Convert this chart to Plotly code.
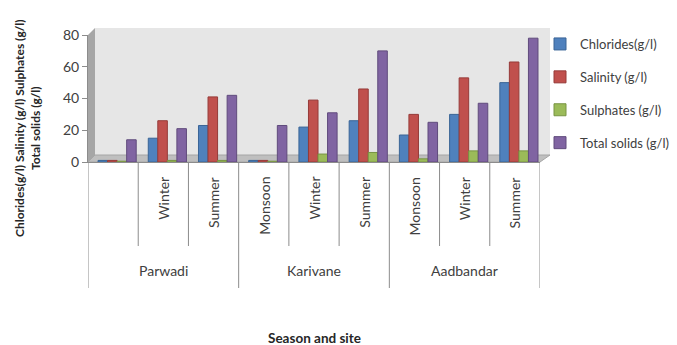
import plotly.graph_objects as go

# Sampling sites and seasons
sites = ["Parwadi", "Karivane", "Aadbandar"]
seasons = ["", "Winter", "Summer", "Monsoon", "Winter", "Summer", "Monsoon", "Winter", "Summer"]

# Measured values (g/l) per season/site
chlorides = [1, 15, 23, 1, 22, 26, 17, 30, 50]
salinity = [1, 26, 41, 1, 39, 46, 30, 53, 63]
sulphates = [0.5, 1, 1, 0.5, 5, 6, 2, 7, 7]
total_solids = [14, 21, 42, 23, 31, 70, 25, 37, 78]

series = [
    ("Chlorides(g/l)", chlorides, "#4F81BD", "#3A6596"),
    ("Salinity (g/l)", salinity, "#C0504D", "#963B39"),
    ("Sulphates (g/l)", sulphates, "#9BBB59", "#789443"),
    ("Total solids (g/l)", total_solids, "#8064A2", "#604B7C"),
]

W, H = 677, 345
L, R, T, B = 88, 137, 35, 183
PW, PH = W - L - R, H - T - B


def px_x(px):
    return (px - L) / PW


def px_y(py):
    return (H - B - py) / PH


pos = list(range(len(seasons)))
offsets = [-0.30, -0.11, 0.08, 0.27]

fig = go.Figure()
for i, (name, vals, col, edge) in enumerate(series):
    fig.add_trace(go.Bar(
        x=pos, y=vals, name=name, legendgroup=name,
        width=0.19, offset=offsets[i],
        marker=dict(color=col, line=dict(color=edge, width=1)),
    ))

shapes = []
# back wall, left wall and floor of the 3-D frame
shapes.append(dict(type="rect", xref="paper", yref="paper", layer="below",
                   x0=px_x(95), x1=px_x(550), y0=px_y(155), y1=px_y(28),
                   fillcolor="#E6E6E6", line=dict(width=0)))
shapes.append(dict(type="path", xref="paper", yref="paper", layer="below",
                   path=f"M {px_x(88)},{px_y(35)} L {px_x(95)},{px_y(28)} L {px_x(95)},{px_y(155)} L {px_x(88)},{px_y(162)} Z",
                   fillcolor="#A6A6A6", line=dict(width=0)))
shapes.append(dict(type="path", xref="paper", yref="paper", layer="below",
                   path=f"M {px_x(88)},{px_y(162)} L {px_x(540)},{px_y(162)} L {px_x(550)},{px_y(155)} L {px_x(95)},{px_y(155)} Z",
                   fillcolor="#BFBFBF", line=dict(color="#A6A6A6", width=1)))

# category dividers below the axis
n_per_site = 3
for k in range(len(seasons) + 1):
    outer = k % n_per_site == 0
    depth = 126 if outer else 84
    shapes.append(dict(type="line", xref="x", yref="paper",
                       x0=k - 0.5, x1=k - 0.5, y0=0, y1=-depth / PH,
                       line=dict(color="#8C8C8C", width=1)))

annotations = []
for k, s in enumerate(seasons):
    if s:
        annotations.append(dict(x=k, y=0, xref="x", yref="paper", text=s,
                                textangle=-90, showarrow=False, yanchor="top",
                                yshift=-13, font=dict(size=14, color="#404040")))
for j, site in enumerate(sites):
    annotations.append(dict(x=j * n_per_site + 1, y=0, xref="x", yref="paper",
                            text=site, showarrow=False, yanchor="middle",
                            yshift=-108, font=dict(size=14, color="#404040")))
annotations.append(dict(x=0.5, y=0, xref="paper", yref="paper", text="<b>Season and site</b>",
                        showarrow=False, yanchor="middle", yshift=-176,
                        font=dict(size=13.5, color="#262626")))
annotations.append(dict(x=0, y=px_y(128), xref="paper", yref="paper",
                        text="<b>Chlorides(g/l) Salinity (g/l) Sulphates (g/l)<br>Total solids (g/l)</b>",
                        textangle=-90, showarrow=False, xanchor="center", yanchor="middle",
                        xshift=-61, font=dict(size=12, color="#262626")))

fig.update_layout(
    width=W, height=H,
    margin=dict(l=L, r=R, t=T, b=B, autoexpand=False),
    paper_bgcolor="white", plot_bgcolor="rgba(0,0,0,0)",
    font=dict(family="Lato, Open Sans, sans-serif", color="#404040"),
    barmode="group",
    showlegend=True,
    legend=dict(x=px_x(540), xanchor="left", y=px_y(29), yanchor="top",
                font=dict(size=13, color="#404040"), tracegroupgap=13,
                itemwidth=30, bgcolor="rgba(0,0,0,0)"),
    shapes=shapes, annotations=annotations,
)
fig.update_xaxes(range=[-0.5, len(seasons) - 0.5], showticklabels=False, showgrid=False,
                 zeroline=False, showline=True, linecolor="#8C8C8C", ticks="")
fig.update_yaxes(range=[0, 80], tickvals=[0, 20, 40, 60, 80], showgrid=False, zeroline=False,
                 showline=True, linecolor="#8C8C8C", ticks="outside", ticklen=5,
                 tickcolor="#8C8C8C", tickfont=dict(size=14, color="#404040"))

fig.write_html("out.html")
